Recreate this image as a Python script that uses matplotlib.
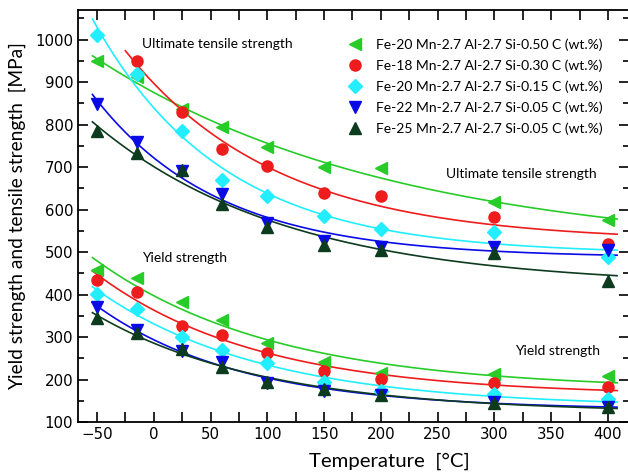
from matplotlib import pyplot as plt
from matplotlib.ticker import MultipleLocator
import numpy as np

# temperatures (degC)
temps = [-50, -15, 25, 60, 100, 150, 200, 300, 400]
temps_red_uts = [-15, 25, 60, 100, 150, 200, 300, 400]

labels = [
	"Fe-20 Mn-2.7 Al-2.7 Si-0.50 C (wt.%)",
	"Fe-18 Mn-2.7 Al-2.7 Si-0.30 C (wt.%)",
	"Fe-20 Mn-2.7 Al-2.7 Si-0.15 C (wt.%)",
	"Fe-22 Mn-2.7 Al-2.7 Si-0.05 C (wt.%)",
	"Fe-25 Mn-2.7 Al-2.7 Si-0.05 C (wt.%)",
]

# ultimate tensile strength (MPa)
uts_c50 = [950, 912, 838, 795, 748, 700, 697, 618, 576]
uts_c30 = [950, 831, 743, 703, 640, 631, 582, 519]
uts_c15 = [1012, 920, 784, 670, 631, 586, 554, 548, 488]
uts_c05a = [849, 760, 690, 637, 568, 527, 513, 512, 504]
uts_c05b = [786, 733, 693, 614, 558, 516, 506, 497, 433]

# yield strength (MPa)
ys_c50 = [458, 438, 383, 340, 287, 242, 216, 213, 209]
ys_c30 = [434, 407, 325, 305, 263, 219, 201, 192, 182]
ys_c15 = [401, 365, 300, 270, 240, 193, 174, 165, 153]
ys_c05a = [370, 317, 266, 242, 191, 174, 164, 148, 136]
ys_c05b = [344, 309, 273, 230, 195, 177, 164, 144, 136]

colors = ["#28cc28", "#ee1c1c", "#22eeff", "#0a0ae6", "#0d3b1e"]
markers = ["<", "o", "D", "v", "^"]
msizes = [9, 8, 7.5, 9, 9]


def exp_fit(t, v, t_line):
	# least squares fit of v = a + b*exp(-t/c)
	t = np.asarray(t, dtype=float)
	v = np.asarray(v, dtype=float)
	best = None
	for c in np.linspace(20, 800, 400):
		A = np.column_stack([np.ones_like(t), np.exp(-t / c)])
		coef = np.linalg.lstsq(A, v, rcond=None)[0]
		err = np.sum((A @ coef - v) ** 2)
		if best is None or err < best[0]:
			best = (err, c, coef)
	_, c, coef = best
	return coef[0] + coef[1] * np.exp(-t_line / c)


plt.rcParams["font.family"] = "DejaVu Sans"
fig = plt.figure(figsize=(6.28, 4.75), dpi=100)
ax = fig.add_axes([78 / 628, 53 / 475, 551 / 628, 412 / 475])

uts = [uts_c50, uts_c30, uts_c15, uts_c05a, uts_c05b]
ys = [ys_c50, ys_c30, ys_c15, ys_c05a, ys_c05b]

for i in range(5):
	t_uts = temps_red_uts if i == 1 else temps
	t0 = -25 if i == 1 else -54
	tl = np.linspace(t0, 408, 200)
	ax.plot(tl, exp_fit(t_uts, uts[i], tl), color=colors[i], lw=1.2, zorder=2)
	ax.plot(t_uts, uts[i], ls="none", marker=markers[i], ms=msizes[i],
		color=colors[i], label=labels[i], zorder=3)
	tl = np.linspace(-54, 408, 200)
	ax.plot(tl, exp_fit(temps, ys[i], tl), color=colors[i], lw=1.2, zorder=2)
	ax.plot(temps, ys[i], ls="none", marker=markers[i], ms=msizes[i],
		color=colors[i], zorder=3)

ax.set_xlim(-66.7, 418.5)
ax.set_ylim(100, 1070)
ax.xaxis.set_major_locator(MultipleLocator(50))
ax.xaxis.set_minor_locator(MultipleLocator(25))
ax.yaxis.set_major_locator(MultipleLocator(100))
ax.yaxis.set_minor_locator(MultipleLocator(50))
ax.tick_params(which="both", direction="in", top=True, right=True, labelsize=10.8, width=1.2)
ax.tick_params(which="major", length=7)
ax.tick_params(which="minor", length=4)
ax.tick_params(axis="x", which="minor", top=True, length=7)
for s in ax.spines.values():
	s.set_linewidth(1.3)

lab_font = "Lato"
ax.set_xlabel("Temperature  [°C]", fontsize=14.7, family=lab_font)
ax.xaxis.set_label_coords(0.566, -0.075)
ax.set_ylabel("Yield strength and tensile strength  [MPa]", fontsize=13.8, family=lab_font)
ax.yaxis.set_label_coords(-0.095, 0.5)

ax.text(-10.4, 990, "Ultimate tensile strength", fontsize=10, family=lab_font, va="center")
ax.text(257, 684, "Ultimate tensile strength", fontsize=10, family=lab_font, va="center")
ax.text(-10.4, 486, "Yield strength", fontsize=10, family=lab_font, va="center")
ax.text(318, 267, "Yield strength", fontsize=10, family=lab_font, va="center")

ax.legend(loc="upper left", bbox_to_anchor=(0.49, 0.932), frameon=False,
	prop={"family": lab_font, "size": 10}, borderpad=0, handlelength=1.0,
	handletextpad=1.0, labelspacing=0.62, borderaxespad=0)

fig.savefig("out.png", dpi=100)
